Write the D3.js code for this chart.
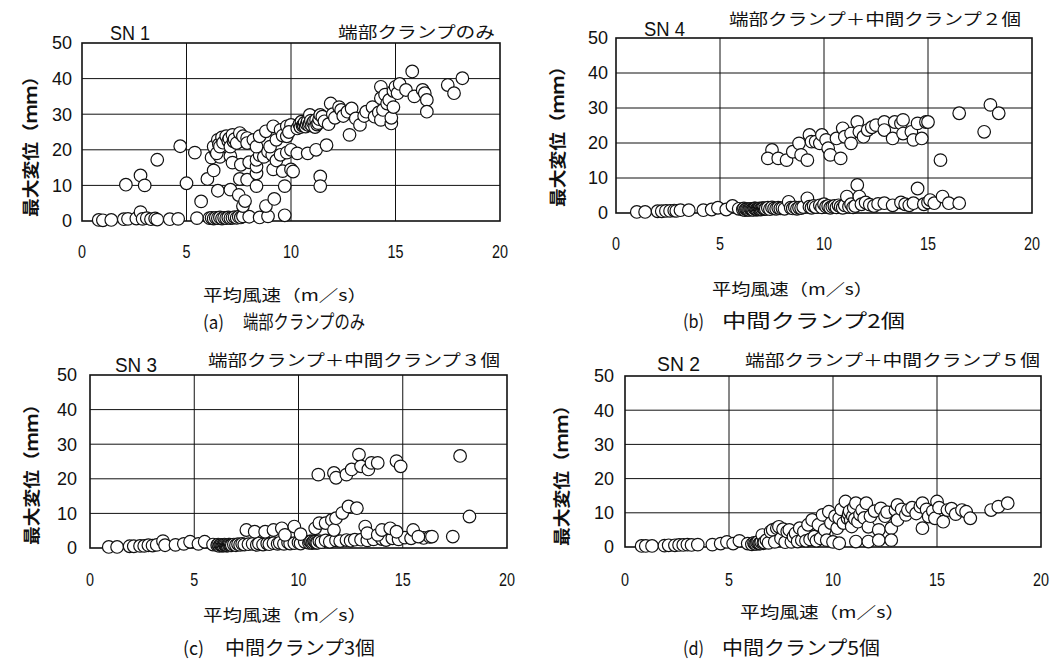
<!DOCTYPE html>
<html><head><meta charset="utf-8">
<script src="https://cdn.jsdelivr.net/npm/d3@7"></script>
<style>body{margin:0;background:#fff}svg{display:block}</style>
</head><body>
<svg id="chart" width="1058" height="665"></svg>
<script>
// ---------- data ----------
const xTicks = [0, 5, 10, 15, 20];
const yTicks = [0, 10, 20, 30, 40, 50];
const xLabel = "平均風速（m／s）";
const yLabel = "最大変位（ｍｍ）";
const specimenNames = ["SN 1", "SN 4", "SN 3", "SN 2"];
const conditionTitles = ["端部クランプのみ", "端部クランプ＋中間クランプ２個", "端部クランプ＋中間クランプ３個", "端部クランプ＋中間クランプ５個"];
const captionTags = ["(a)", "(b)", "(c)", "(d)"];
const captionTexts = ["端部クランプのみ", "中間クランプ2個", "中間クランプ3個", "中間クランプ5個"];

// (a) SN1  [mean wind speed m/s, max displacement mm]
const pointsSN1 = [
[0.8,0.3],[1.0,0.2],[1.4,0.3],[2.0,0.5],[2.2,0.6],[2.6,0.7],[2.8,2.5],[2.9,0.6],[3.1,0.8],[3.3,0.5],[3.5,0.7],[3.6,0.4],[4.2,0.5],[4.6,0.6],[5.5,0.8],
[6.1,0.8],[6.2,0.9],[6.3,0.7],[6.4,0.9],[6.5,0.8],[6.6,1.0],[6.7,0.7],[6.8,0.9],[6.9,0.8],[7.0,1.0],[7.1,0.8],[7.2,0.9],[7.3,1.1],[7.4,0.9],[7.5,1.2],[7.6,1.0],[7.7,1.3],[8.0,1.2],[8.5,1.0],[8.9,1.3],[9.7,1.6],
[2.1,10.2],[2.8,12.8],[3.0,10.0],[3.6,17.2],[4.7,21.0],[5.0,10.6],[5.4,19.2],[5.7,5.5],
[6.0,11.8],[6.3,14.2],[6.5,8.5],[6.2,17.8],[6.4,19.5],[6.6,18.0],[7.1,8.8],[7.1,18.2],[7.2,16.4],[7.5,7.3],[7.55,11.8],[7.6,15.8],[7.7,4.2],[7.8,5.6],[7.9,11.6],[8.0,16.5],
[8.35,9.8],[8.35,13.4],[8.35,15.3],[8.35,17.2],[8.5,18.5],[8.7,18.0],[8.8,4.2],[8.9,19.5],[9.1,18.6],[9.15,14.5],[9.2,6.2],[9.3,17.0],[9.5,18.6],[9.6,14.0],[9.7,9.8],[9.8,19.2],[10.0,14.5],[10.1,13.9],
[6.3,20.9],[6.45,19.0],[6.5,22.8],[6.55,21.5],[6.6,20.9],[6.7,23.5],[6.75,22.0],[6.9,23.8],[7.0,22.5],[7.05,23.2],[7.1,20.9],[7.2,24.2],[7.25,22.4],[7.3,23.0],[7.4,21.9],[7.55,24.7],[7.7,23.8],[7.9,23.3],[7.9,21.9],[8.2,22.8],[8.35,20.9],[8.5,23.8],[8.8,25.2],[9.0,20.9],[9.15,26.6],[9.3,22.8],[9.5,25.6],[9.6,24.0],[9.8,26.6],[9.8,23.8],[10.0,27.0],[9.9,25.0],
[10.0,20.0],[10.3,19.0],[10.3,26.0],[10.4,27.2],[10.45,26.4],[10.5,27.9],[10.55,26.8],[10.6,27.0],[10.65,27.6],[10.7,26.5],[10.75,27.2],[10.8,19.0],[10.8,28.0],[10.85,26.9],[10.9,27.4],[10.9,29.8],[10.95,28.2],[11.0,26.8],[11.05,27.6],[11.1,28.0],[11.15,26.4],[11.2,28.4],[11.2,20.0],[11.25,27.1],[11.3,27.5],[11.35,28.6],[11.4,29.8],[11.4,12.5],[11.4,9.8],[11.5,29.3],[11.6,28.0],[11.7,21.3],[11.8,27.2],
[11.9,33.0],[12.0,30.0],[12.1,29.0],[12.3,32.0],[12.4,31.2],[12.5,29.5],[12.7,30.7],[12.8,24.2],[12.9,31.6],[13.1,28.8],[13.3,27.0],[13.5,29.5],[13.6,30.7],[13.9,32.0],[14.0,29.3],[14.2,30.5],[14.3,28.4],[14.3,37.7],[14.3,34.5],[14.4,31.2],[14.5,35.5],[14.6,33.0],[14.7,34.0],[14.8,27.4],[14.8,29.0],[14.9,32.0],[14.9,36.5],[15.0,37.7],[15.1,35.9],[15.2,38.5],[15.5,36.8],[15.8,42.0],[15.9,35.0],[16.3,36.8],[16.4,35.9],[16.5,34.0],[16.5,30.7],[17.5,38.2],[17.8,35.9],[18.2,40.1]
];

// (b) SN4
const pointsSN4 = [
[1.0,0.3],[1.4,0.3],[2.0,0.5],[2.2,0.5],[2.4,0.6],[2.6,0.6],[2.8,0.7],[2.9,0.6],[3.1,0.8],[3.5,0.8],[4.2,0.8],[4.6,1.0],[4.9,1.5],[5.3,1.0],[5.6,2.0],[5.9,1.2],
[6.1,1.0],[6.15,1.3],[6.2,0.8],[6.25,1.1],[6.3,1.1],[6.35,0.9],[6.4,0.9],[6.45,1.2],[6.5,1.2],[6.55,1.0],[6.6,0.9],[6.65,1.3],[6.7,1.3],[6.75,1.0],[6.8,1.0],[6.85,1.2],[6.9,1.3],[6.95,1.0],[7.0,1.1],[7.05,1.4],[7.1,1.4],[7.15,1.1],[7.2,1.2],[7.3,1.5],[7.4,1.1],[7.5,1.6],[7.6,1.3],[7.7,1.2],[7.8,1.5],[7.9,1.3],[8.0,1.4],[8.1,1.2],[8.3,3.2],[8.4,1.5],[8.5,1.3],[8.6,1.6],[8.7,1.2],[8.8,1.5],[8.9,1.4],[9.0,1.7],[9.2,4.2],[9.3,1.8],[9.4,1.5],[9.5,2.0],[9.6,1.7],[9.8,2.2],[9.9,1.6],
[10.0,2.5],[10.1,1.8],[10.2,2.0],[10.3,1.5],[10.4,1.8],[10.5,2.0],[10.6,1.6],[10.7,2.2],[10.8,1.8],[10.9,1.5],[11.0,2.2],[11.1,4.7],[11.2,1.8],[11.3,2.5],[11.4,1.6],[11.5,2.0],[11.6,8.0],[11.7,4.7],[11.8,2.5],[12.0,3.0],[12.2,2.4],[12.4,2.0],[12.6,2.6],[12.9,2.8],[13.3,2.2],[13.7,3.0],[13.9,2.5],[14.1,2.2],[14.3,2.8],[14.5,7.0],[14.8,2.5],[15.0,3.0],[15.1,3.7],[15.3,2.8],[15.7,4.7],[16.0,2.8],[16.5,2.8],
[7.5,18.0],[7.3,15.6],[7.8,15.6],[8.2,15.1],[8.5,17.5],[8.8,19.9],[8.9,16.6],[9.2,15.1],[9.3,22.3],[9.4,20.4],[9.6,20.4],[9.8,19.9],[9.9,22.3],[10.1,20.9],[10.2,18.5],[10.3,16.6],[10.6,21.3],[10.8,15.6],[10.9,24.2],[11.0,21.8],[11.3,22.7],[11.3,19.9],[11.6,26.0],[11.7,23.2],[11.9,21.8],[12.1,23.7],[12.3,24.5],[12.5,25.1],[12.9,26.0],[12.9,23.7],[13.3,21.3],[13.4,26.0],[13.7,25.6],[13.8,26.6],[13.8,22.7],[14.2,23.2],[14.3,20.9],[14.5,25.6],[14.7,21.3],[14.9,26.0],[15.0,26.0],[15.6,15.1],[16.5,28.5],[17.7,23.2],[18.0,30.9],[18.4,28.5]
];

// (c) SN3
const pointsSN3 = [
[0.9,0.3],[1.3,0.3],[1.9,0.5],[2.1,0.5],[2.4,0.6],[2.6,0.6],[2.8,0.8],[3.0,0.7],[3.2,0.9],[3.5,2.0],[3.6,0.8],[4.1,0.9],[4.5,1.2],[4.8,1.8],[5.2,1.2],[5.5,1.8],[5.9,1.0],
[6.1,0.8],[6.15,1.0],[6.2,0.6],[6.25,0.9],[6.3,0.9],[6.35,0.7],[6.4,0.7],[6.45,1.0],[6.5,0.9],[6.55,0.7],[6.6,0.7],[6.65,1.0],[6.7,1.0],[6.75,0.8],[6.8,0.8],[6.9,1.0],[7.0,0.8],[7.1,1.1],[7.2,0.9],[7.3,1.2],[7.4,1.0],[7.6,1.1],[7.8,1.2],[8.0,0.9],[8.1,1.3],[8.3,1.0],[8.5,1.3],[8.6,1.1],[8.8,1.4],[9.0,1.2],[9.1,1.5],[9.3,1.2],[9.5,1.6],[9.6,1.3],[9.8,1.4],
[10.0,1.6],[10.1,1.3],[10.3,1.8],[10.5,1.5],[10.55,1.9],[10.6,1.9],[10.65,1.4],[10.7,1.6],[10.75,2.0],[10.8,1.8],[10.85,1.5],[10.9,1.5],[11.0,2.0],[11.1,1.7],[11.3,2.2],[11.5,1.8],[11.8,2.2],[12.0,2.0],[12.3,2.3],[12.5,2.1],[12.7,2.4],[13.0,2.4],[13.3,2.2],[13.6,2.5],[14.0,2.6],[14.2,2.3],[14.5,2.8],[14.8,2.5],[15.1,3.0],[15.4,2.8],[16.0,2.9],[16.3,3.2],
[7.5,5.2],[7.9,4.7],[8.4,4.7],[8.8,5.2],[9.2,5.7],[9.35,3.8],[9.8,6.2],[10.1,4.0],[10.8,5.7],[11.0,7.2],[11.3,7.2],[11.6,8.1],[11.7,5.2],[11.8,8.6],[12.1,10.1],[12.4,12.0],[12.8,11.5],[13.2,6.2],[13.3,4.3],[13.8,3.8],[14.0,5.2],[14.4,5.7],[14.7,4.7],[15.5,5.2],[15.75,3.3],[16.4,3.3],[17.4,3.3],[18.2,9.1],
[10.95,21.2],[11.7,21.7],[11.8,20.3],[12.3,21.2],[12.55,22.7],[12.9,27.0],[13.0,23.6],[13.35,22.7],[13.5,24.6],[13.8,24.6],[14.7,25.1],[14.9,23.6],[17.75,26.6]
];

// (d) SN2
const pointsSN2 = [
[0.8,0.3],[1.0,0.3],[1.3,0.3],[1.9,0.4],[2.1,0.5],[2.4,0.5],[2.6,0.6],[2.8,0.6],[3.0,0.7],[3.2,0.6],[3.5,0.7],[4.2,0.7],[4.6,1.0],[4.9,1.5],[5.2,1.0],[5.5,1.8],[5.9,1.0],
[6.1,0.8],[6.2,1.2],[6.25,0.9],[6.3,0.9],[6.35,1.3],[6.4,1.5],[6.45,1.0],[6.5,1.0],[6.55,1.4],[6.6,3.5],[6.65,1.1],[6.7,1.3],[6.8,2.0],[6.9,1.2],[7.0,4.5],[7.1,5.0],[7.2,1.5],[7.3,5.5],[7.4,5.9],[7.5,2.5],[7.6,5.2],[7.7,1.4],[7.8,4.5],[7.9,5.0],[8.0,1.5],[8.1,3.0],[8.2,4.0],[8.3,1.6],[8.4,5.5],[8.5,2.0],[8.6,4.5],[8.7,1.8],[8.8,6.5],[8.9,2.2],[9.0,7.9],[9.1,3.0],[9.2,1.8],[9.3,6.5],[9.4,2.5],[9.5,9.4],[9.6,5.0],[9.7,2.0],[9.8,10.3],[9.9,7.0],
[10.0,1.5],[10.1,9.0],[10.2,5.5],[10.3,8.4],[10.3,1.1],[10.4,11.0],[10.5,7.0],[10.6,13.3],[10.7,8.4],[10.75,9.6],[10.8,10.5],[10.85,7.8],[10.9,6.0],[10.95,9.0],[11.0,11.5],[11.05,8.2],[11.1,12.8],[11.1,1.6],[11.2,7.4],[11.3,9.5],[11.4,10.8],[11.5,8.5],[11.6,12.8],[11.7,5.9],[11.7,1.6],[11.8,9.0],[12.0,10.5],[12.2,5.0],[12.2,2.0],[12.3,11.3],[12.5,9.0],[12.6,10.2],[12.8,5.5],[12.8,2.0],
[13.0,10.8],[13.1,12.3],[13.1,7.9],[13.3,11.0],[13.5,9.4],[13.6,10.8],[13.8,11.5],[14.0,9.8],[14.2,11.8],[14.3,12.8],[14.3,5.5],[14.5,11.0],[14.6,8.9],[14.8,10.5],[14.9,8.4],[15.0,13.3],[15.1,11.5],[15.3,7.4],[15.5,10.8],[15.7,11.2],[15.9,9.6],[16.2,10.8],[16.4,10.3],[16.6,8.4],[17.6,10.8],[17.95,11.8],[18.4,12.8]
];

const datasets = [pointsSN1, pointsSN4, pointsSN3, pointsSN2];

// ---------- layout ----------
const layout = [
  {l:82, r:500, t:43, b:221, tickY:258, tickGap:10, sn:[110,40,40], title:[338,495,38], yl:[31,142], xl:[203,367,301], cap:[203,243,365,329]},
  {l:616, r:1032, t:38, b:213, tickY:250, tickGap:8, sn:[644,36,41], title:[729,1021,25], yl:[558,132], xl:[712,873,295], cap:[683,722,905,328]},
  {l:90, r:507, t:375, b:548, tickY:586, tickGap:13, sn:[115,372,42], title:[208,500,366], yl:[32,470], xl:[203,367,621], cap:[183,225,375,655]},
  {l:625, r:1041, t:376, b:547, tickY:586, tickGap:11, sn:[657,371,43], title:[745,1040,366], yl:[562,471], xl:[740,905,618], cap:[683,722,880,655]}
];

const svg = d3.select("#chart");
const ink = "#111";
const latin = "'Liberation Sans', Arial, sans-serif";
const cjk = "'Noto Sans CJK JP', 'Noto Sans CJK SC', sans-serif";

layout.forEach((L, i) => {
  const x = d3.scaleLinear().domain([0, 20]).range([L.l, L.r]);
  const y = d3.scaleLinear().domain([0, 50]).range([L.b, L.t]);
  const g = svg.append("g");

  // grid
  g.selectAll(".hg").data(yTicks.filter(v => v > 0 && v < 50)).join("line")
    .attr("x1", L.l).attr("x2", L.r).attr("y1", d => y(d)).attr("y2", d => y(d))
    .attr("stroke", ink).attr("stroke-width", 1);
  g.selectAll(".vg").data(xTicks.filter(v => v > 0 && v < 20)).join("line")
    .attr("y1", L.t).attr("y2", L.b).attr("x1", d => x(d)).attr("x2", d => x(d))
    .attr("stroke", ink).attr("stroke-width", 1);
  // frame
  g.append("rect").attr("x", L.l).attr("y", L.t).attr("width", L.r - L.l).attr("height", L.b - L.t)
    .attr("fill", "none").attr("stroke", ink).attr("stroke-width", 1.6);

  // y tick labels
  g.selectAll(".yt").data(yTicks).join("text")
    .attr("x", L.l - L.tickGap).attr("y", d => y(d)).attr("dy", "0.36em")
    .attr("text-anchor", "end").attr("font-family", latin).attr("font-size", 18).attr("fill", ink)
    .text(d => d);
  // x tick labels (condensed)
  g.selectAll(".xt").data(xTicks).join("text")
    .attr("x", d => x(d)).attr("y", L.tickY)
    .attr("text-anchor", "middle").attr("font-family", latin).attr("font-size", 19).attr("fill", ink)
    .attr("textLength", d => String(d).length * 8).attr("lengthAdjust", "spacingAndGlyphs")
    .text(d => d);

  // points
  g.selectAll("circle").data(datasets[i]).join("circle")
    .attr("cx", d => x(d[0])).attr("cy", d => y(d[1])).attr("r", 6.3)
    .attr("fill", "#fff").attr("stroke", ink).attr("stroke-width", 1.2);

  // specimen name
  g.append("text").attr("x", L.sn[0]).attr("y", L.sn[1])
    .attr("font-family", latin).attr("font-size", 20).attr("fill", ink)
    .attr("textLength", L.sn[2]).attr("lengthAdjust", "spacingAndGlyphs")
    .text(specimenNames[i]);
  // condition title
  g.append("text").attr("x", L.title[0]).attr("y", L.title[2])
    .attr("font-family", cjk).attr("font-size", 16).attr("fill", ink)
    .attr("textLength", L.title[1] - L.title[0]).attr("lengthAdjust", "spacingAndGlyphs")
    .text(conditionTitles[i]);

  // y label
  g.append("text").attr("transform", `translate(${L.yl[0]},${L.yl[1]}) rotate(-90)`)
    .attr("text-anchor", "middle").attr("dy", "0.36em")
    .attr("font-family", cjk).attr("font-weight", 700).attr("font-size", 17).attr("fill", ink)
    .attr("textLength", 150).attr("lengthAdjust", "spacingAndGlyphs")
    .text(yLabel);

  // x label
  g.append("text").attr("x", L.xl[0]).attr("y", L.xl[2])
    .attr("font-family", cjk).attr("font-size", 16).attr("fill", ink)
    .attr("textLength", L.xl[1] - L.xl[0]).attr("lengthAdjust", "spacingAndGlyphs")
    .text(xLabel);

  // caption
  g.append("text").attr("x", L.cap[0]).attr("y", L.cap[3])
    .attr("font-family", cjk).attr("font-size", 18).attr("fill", ink)
    .attr("textLength", 21).attr("lengthAdjust", "spacingAndGlyphs")
    .text(captionTags[i]);
  g.append("text").attr("x", L.cap[1]).attr("y", L.cap[3])
    .attr("font-family", cjk).attr("font-size", 19).attr("fill", ink)
    .attr("textLength", L.cap[2] - L.cap[1]).attr("lengthAdjust", "spacingAndGlyphs")
    .text(captionTexts[i]);
});
</script>
</body></html>
